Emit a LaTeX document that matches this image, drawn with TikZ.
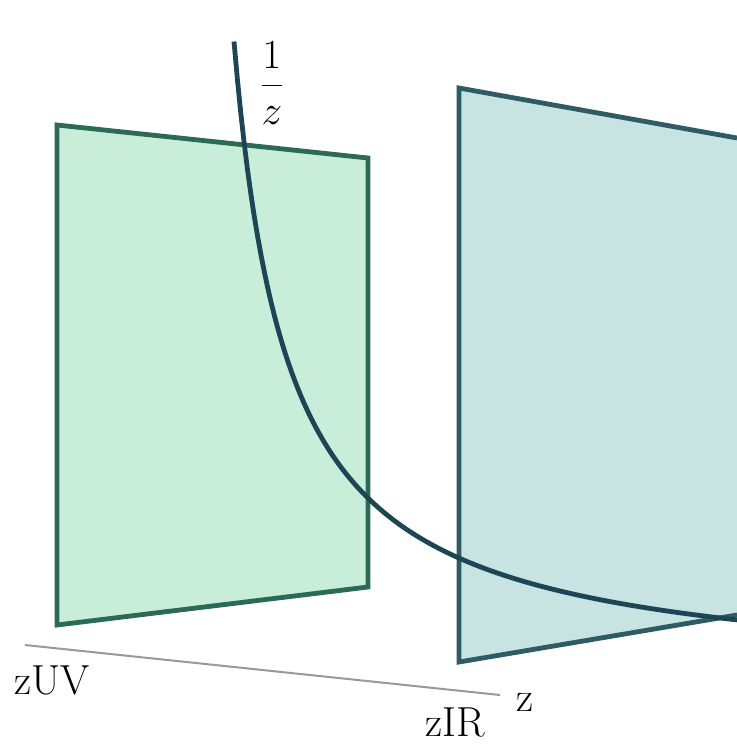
\documentclass[tikz,border=0pt]{standalone}
\usepackage{tikz}
\definecolor{uvfill}{HTML}{C8EEDA}
\definecolor{uvedge}{HTML}{2C6A55}
\definecolor{irfill}{HTML}{C7E4E3}
\definecolor{iredge}{HTML}{2F5B64}
\definecolor{warpcol}{HTML}{1C4656}
\begin{document}
\begin{tikzpicture}[x=0.5pt, y=-0.5pt,
    plane/.style={line width=2.4pt, line join=miter},
    lbl/.style={font=\fontsize{21}{24}\selectfont, inner sep=0pt}]
      \useasboundingbox (0,0) rectangle (737,745);
      \coordinate (uvtl) at (57,125);
      \coordinate (uvtr) at (368,158);
      \coordinate (uvbr) at (368,587);
      \coordinate (uvbl) at (57,625);
      \coordinate (irtl) at (459,88);
      \coordinate (irtr) at (737,138);
      \coordinate (irbr) at (737,615);
      \coordinate (irbl) at (459,662);
      \draw[plane, draw=uvedge, fill=uvfill] (uvtl) -- (uvtr) -- (uvbr) -- (uvbl) -- cycle;
      \draw[plane, draw=iredge, fill=irfill] (irtr) -- (irtl) -- (irbl) -- (irbr);
      \draw[warpcol, line width=2.4pt, domain=234:737, samples=150] plot (\x, {682 - 345.84/((\x-180)/100)});
      \coordinate (axstart) at (25,645);
      \coordinate (axend) at (500,695);
      \draw[gray!80, line width=1pt] (axstart) -- (axend);
      \node[lbl] (zlab) at (525,702) {z};
      \node[lbl] (uvlab) at (52,680) {zUV};
      \node[lbl] (irlab) at (455,722) {zIR};
      \node[lbl] (frac) at (272,83) {$\displaystyle\frac{1}{z}$};
    \end{tikzpicture}
\end{document}
